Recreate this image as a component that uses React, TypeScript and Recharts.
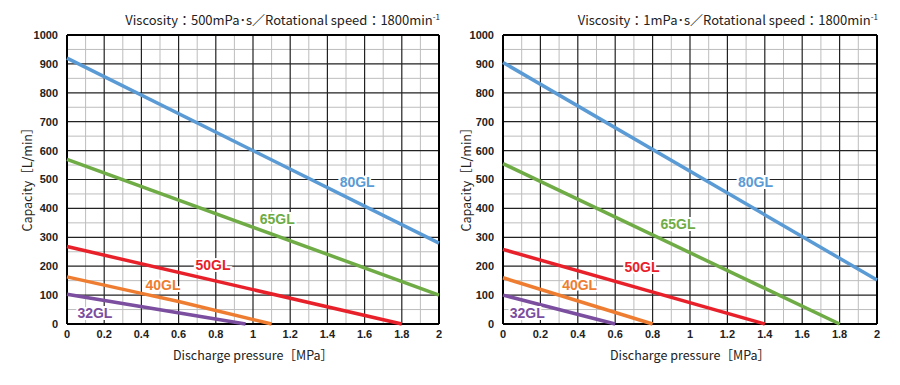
import { LineChart, Line, XAxis, YAxis, CartesianGrid, ReferenceDot } from "recharts";

const pressureTicks = [0, 0.2, 0.4, 0.6, 0.8, 1, 1.2, 1.4, 1.6, 1.8, 2];
const capacityTicks = [0, 100, 200, 300, 400, 500, 600, 700, 800, 900, 1000];
const minorPressure = [0.1, 0.3, 0.5, 0.7, 0.9, 1.1, 1.3, 1.5, 1.7, 1.9];
const minorCapacity = [50, 150, 250, 350, 450, 550, 650, 750, 850, 950];

// viscosity 500 mPa·s
const hiVisc80 = [{ p: 0, q: 920 }, { p: 2, q: 280 }];
const hiVisc65 = [{ p: 0, q: 570 }, { p: 2, q: 100 }];
const hiVisc50 = [{ p: 0, q: 268 }, { p: 1, q: 119 }, { p: 1.8, q: 0 }];
const hiVisc40 = [{ p: 0, q: 163 }, { p: 0.4, q: 106 }, { p: 0.6, q: 78 }, { p: 1.1, q: 0 }];
const hiVisc32 = [{ p: 0, q: 103 }, { p: 0.96, q: 0 }];

// viscosity 1 mPa·s
const loVisc80 = [{ p: 0, q: 905 }, { p: 2, q: 152 }];
const loVisc65 = [{ p: 0, q: 555 }, { p: 1.8, q: 0 }];
const loVisc50 = [{ p: 0, q: 258 }, { p: 1.4, q: 0 }];
const loVisc40 = [{ p: 0, q: 160 }, { p: 0.8, q: 0 }];
const loVisc32 = [{ p: 0, q: 100 }, { p: 0.6, q: 0 }];

const models = ["80GL", "65GL", "50GL", "40GL", "32GL"];
const colors = ["#5b9bd5", "#6fac46", "#e8202a", "#ee7d31", "#7b4ea0"];

// label anchors [pressure, capacity]
const hiViscLabels = [[1.56, 491], [1.13, 363], [0.785, 204], [0.516, 135], [0.15, 38]];
const loViscLabels = [[1.35, 491], [0.936, 346], [0.743, 197], [0.41, 135], [0.13, 38]];

type Pt = { p: number; q: number };

const jpFont = "'Noto Sans CJK JP', 'Noto Sans', sans-serif";

function Panel({
  title,
  series,
  labels,
  left,
  right,
  yLabelX,
}: {
  title: React.ReactNode;
  series: Pt[][];
  labels: number[][];
  left: number;
  right: number;
  yLabelX: number;
}) {
  const tick = { fill: "#222", fontSize: 11, fontFamily: "Liberation Sans, Arial, sans-serif", fontWeight: 600 };
  return (
    <div style={{ position: "relative", width: 450, height: 385 }}>
      <div
        style={{
          position: "absolute",
          top: 10,
          right: right - 1,
          fontFamily: jpFont,
          fontSize: 13,
          color: "#222",
          whiteSpace: "nowrap",
        }}
      >
        {title}
      </div>
      <LineChart
        width={450}
        height={385}
        margin={{ top: 35, right: right, bottom: 31, left: left - 40 }}
      >
        <CartesianGrid
          stroke="#bdbdbd"
          strokeWidth={1}
          horizontalValues={minorCapacity}
          verticalValues={minorPressure}
        />
        <CartesianGrid
          stroke="#222"
          strokeWidth={1.2}
          horizontalValues={capacityTicks}
          verticalValues={pressureTicks}
        />
        <CartesianGrid
          stroke="#000"
          strokeWidth={2}
          horizontalValues={[0, 1000]}
          verticalValues={[0, 2]}
        />
        <XAxis
          type="number"
          dataKey="p"
          domain={[0, 2]}
          ticks={pressureTicks}
          axisLine={false}
          tickLine={false}
          tick={tick}
          tickMargin={0}
          height={30}
          allowDuplicatedCategory={false}
          label={{
            value: "Discharge pressure［MPa］",
            position: "insideBottom",
            offset: -6,
            fill: "#222",
            fontSize: 12.5,
            fontFamily: jpFont,
          }}
        />
        <YAxis
          type="number"
          domain={[0, 1000]}
          ticks={capacityTicks}
          axisLine={false}
          tickLine={false}
          tick={tick}
          tickMargin={3}
          width={40}
          interval={0}
          label={{
            value: "Capacity［L/min］",
            angle: -90,
            position: "insideLeft",
            offset: yLabelX - (left - 40),
            dy: 52,
            fill: "#222",
            fontSize: 12.5,
            fontFamily: jpFont,
          }}
        />
        {series.map((d, i) => (
          <Line
            key={models[i]}
            data={d}
            dataKey="q"
            type="linear"
            stroke={colors[i]}
            strokeWidth={3.5}
            dot={false}
            isAnimationActive={false}
          />
        ))}
        {labels.map((l, i) => (
          <ReferenceDot
            key={"lbl" + models[i]}
            x={l[0]}
            y={l[1]}
            r={0}
            shape={(props: any) => (
              <text
                x={props.cx}
                y={props.cy}
                textAnchor="middle"
                dominantBaseline="central"
                fill={colors[i]}
                stroke="#fff"
                strokeWidth={4}
                paintOrder="stroke"
                fontSize={14}
                fontWeight={700}
                fontFamily="Liberation Sans, Arial, sans-serif"
              >
                {models[i]}
              </text>
            )}
          />
        ))}
      </LineChart>
    </div>
  );
}

const sup = <sup style={{ fontSize: 8, verticalAlign: "5px" }}>-1</sup>;

export default function App() {
  return (
    <div style={{ position: "absolute", left: 0, top: 0, display: "flex", background: "#fff" }}>
      <Panel
        title={<>Viscosity：500mPa･s／Rotational speed：1800min{sup}</>}
        series={[hiVisc80, hiVisc65, hiVisc50, hiVisc40, hiVisc32]}
        labels={hiViscLabels}
        left={67}
        right={11}
        yLabelX={28}
      />
      <Panel
        title={<>Viscosity：1mPa･s／Rotational speed：1800min{sup}</>}
        series={[loVisc80, loVisc65, loVisc50, loVisc40, loVisc32]}
        labels={loViscLabels}
        left={53}
        right={23}
        yLabelX={17}
      />
    </div>
  );
}
